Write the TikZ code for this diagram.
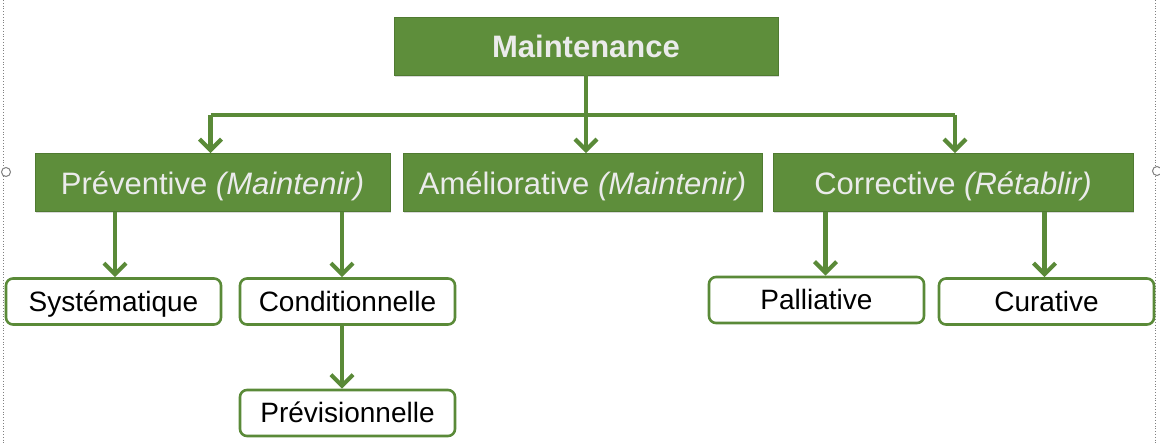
\documentclass[tikz,border=0pt]{standalone}
\usepackage{fontspec}
\setmainfont{Liberation Sans}
\usepackage{tikz}
\usetikzlibrary{arrows.meta,shadows}

\definecolor{boxgreen}{HTML}{5E8E3B}
\definecolor{edgegreen}{HTML}{4F7A31}
\definecolor{arrgreen}{HTML}{5A8A38}
\definecolor{lighttext}{HTML}{EBEBEB}

\begin{document}
\begin{tikzpicture}[x=1pt, y=-1pt,
    typebox/.style={rectangle, fill=boxgreen, draw=edgegreen, line width=0.8pt,
        text=lighttext, inner sep=0pt, minimum height=58pt,
        text height=28pt, text depth=3pt,
        font=\fontsize{31}{37}\selectfont,
        drop shadow={shadow xshift=1pt, shadow yshift=-2pt, opacity=0.3}},
    leafbox/.style={rectangle, rounded corners=7pt, draw=arrgreen, line width=2.6pt,
        fill=white, text=black, inner sep=0pt, minimum width=215pt, minimum height=46pt,
        text height=23pt, text depth=3pt,
        font=\fontsize{28}{33}\selectfont},
    link/.style={draw=arrgreen, line width=4.2pt},
    arr/.style={link, -{Straight Barb[length=11pt, width=22pt, line width=4.2pt]}}]
    \useasboundingbox (0,0) rectangle (1160,443);

    % Selection frame
    \draw[gray, dotted, line width=0.8pt] (3,0) -- (3,443);
    \draw[gray, dotted, line width=0.8pt] (1155,0) -- (1155,443);
    \draw[gray, fill=white, line width=1pt] (6,172) circle (4.5);
    \draw[gray, fill=white, line width=1pt] (1157,171) circle (4.5);

    % Top box
    \node[typebox, minimum width=384pt, text height=27pt] (maint) at (586,46) {\bfseries Maintenance};

    % Middle row
    \node[typebox, minimum width=355pt] (prev) at (212.5,182.5) {Préventive \textit{(Maintenir)}};
    \node[typebox, minimum width=359pt] (amel) at (582.5,182.5) {Améliorative \textit{(Maintenir)}};
    \node[typebox, minimum width=360pt] (corr) at (953,182.5) {Corrective \textit{(Rétablir)}};

    % Bottom row
    \node[leafbox] (syst) at (113.5,301.5) {Systématique};
    \node[leafbox] (cond) at (347.5,301.5) {Conditionnelle};
    \node[leafbox] (previs) at (347.5,413) {Prévisionnelle};
    \node[leafbox] (pall) at (816.5,300) {Palliative};
    \node[leafbox] (cura) at (1046.5,301.5) {Curative};

    % Links
    \coordinate (bar) at (586,115);
    \draw[link] ([xshift=-2pt]prev.north |- bar) -- ([xshift=2pt]corr.north |- bar);
    \draw[arr] (maint.south) -- (maint.south |- amel.north);
    \draw[arr] ([xshift=-2pt]prev.north |- bar) -- ([xshift=-2pt]prev.north);
    \draw[arr] ([xshift=2pt]corr.north |- bar) -- ([xshift=2pt]corr.north);

    \draw[arr] ([xshift=1.5pt]syst.north |- prev.south) -- ([xshift=1.5pt]syst.north);
    \draw[arr] ([xshift=-5.5pt]cond.north |- prev.south) -- ([xshift=-5.5pt]cond.north);
    \draw[arr] ([xshift=-5.5pt]cond.south) -- ([xshift=-5.5pt]previs.north);
    \draw[arr] ([xshift=9pt]pall.north |- corr.south) -- ([xshift=9pt]pall.north);
    \draw[arr] ([xshift=-2pt]cura.north |- corr.south) -- ([xshift=-2pt]cura.north);
\end{tikzpicture}
\end{document}
